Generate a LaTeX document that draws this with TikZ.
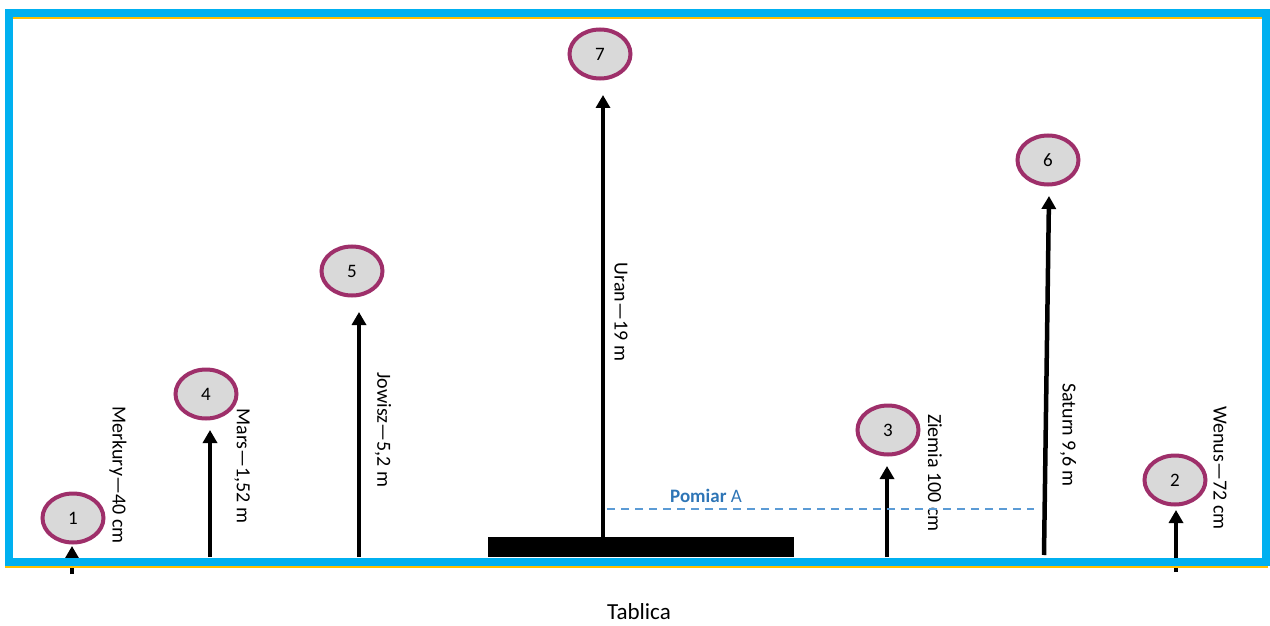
\documentclass[tikz,border=0pt]{standalone}
\usepackage{fontspec}
\setmainfont{Carlito}
\usetikzlibrary{arrows.meta,shapes.geometric}
\definecolor{frameblue}{HTML}{00B0F0}
\definecolor{frameyellow}{HTML}{FFC000}
\definecolor{ringpurple}{HTML}{9E2F6A}
\definecolor{ringfill}{HTML}{D9D9D9}
\definecolor{dashblue}{HTML}{5B9BD5}
\definecolor{textblue}{HTML}{2E75B6}
\begin{document}
\begin{tikzpicture}[x=1pt,y=-1pt,
  marker/.style={ellipse, draw=ringpurple, fill=ringfill, line width=4pt,
    minimum width=61pt, minimum height=49pt, inner sep=0pt,
    font=\fontsize{19}{22}\selectfont},
  bar/.style={line width=4.5pt, -{Triangle[width=14pt,length=13pt]}},
  lbl/.style={rotate=-90, font=\fontsize{20}{24}\selectfont},
]
\useasboundingbox (0,0) rectangle (1270,626);

% base block
\node[fill=black, minimum width=306pt, minimum height=20pt, inner sep=0pt, anchor=north west] (block) at (488,537) {};

% coordinates of arrow ends
\coordinate (b1) at (72,574);   \coordinate (t1) at (72,546);
\coordinate (b4) at (210,557);  \coordinate (t4) at (210,430);
\coordinate (b5) at (359,557);  \coordinate (t5) at (359,312);
\coordinate (b7) at (603,537);  \coordinate (t7) at (603,95);
\coordinate (b3) at (887,557);  \coordinate (t3) at (887,466);
\coordinate (b6) at (1044,555); \coordinate (t6) at (1049,196);
\coordinate (b2) at (1176,572); \coordinate (t2) at (1176,510);

\draw[bar] (b1) -- (t1);
\draw[bar] (b4) -- (t4);
\draw[bar] (b5) -- (t5);
\draw[bar] (b7) -- (t7);
\draw[bar] (b3) -- (t3);
\draw[bar] (b6) -- (t6);
\draw[bar] (b2) -- (t2);

% numbered markers
\node[marker] (m1) at (73,518) {1};
\node[marker] (m4) at (206,394) {4};
\node[marker] (m5) at (352,271) {5};
\node[marker] (m7) at (600,54) {7};
\node[marker] (m3) at (888,430) {3};
\node[marker] (m6) at (1048,160) {6};
\node[marker] (m2) at (1175,480) {2};

% labels
\node[lbl] (l1) at (118,475) {Merkury—40 cm};
\node[lbl] (l4) at (242,466) {Mars—1,52 m};
\node[lbl] (l5) at (383,430) {Jowisz—5,2 m};
\node[lbl] (l7) at (621,312) {Uran—19 m};
\node[lbl] (l3) at (935,473) {Ziemia 100 cm};
\node[lbl] (l6) at (1068,435) {Saturn 9,6 m};
\node[lbl] (l2) at (1220,468) {Wenus—72 cm};

% measurement
\coordinate (pa) at (607,509);
\coordinate (pb) at (1034,509);
\draw[dashblue, line width=1.6pt, dash pattern=on 8pt off 6pt] (pa) -- (pb);
\node[text=textblue, font=\fontsize{19}{22}\selectfont] (pomiar) at (706,496) {\textbf{Pomiar} A};

% frame
\draw[frameyellow, line width=2pt] (13,18) -- (1262,18);
\draw[frameyellow, line width=2.5pt] (5,567) -- (1268,567);
\draw[frameblue, line width=8pt] (9,13) rectangle (1266,561.5);

\node[font=\fontsize{23}{27}\selectfont] (tablica) at (639,612) {Tablica};
\end{tikzpicture}
\end{document}
